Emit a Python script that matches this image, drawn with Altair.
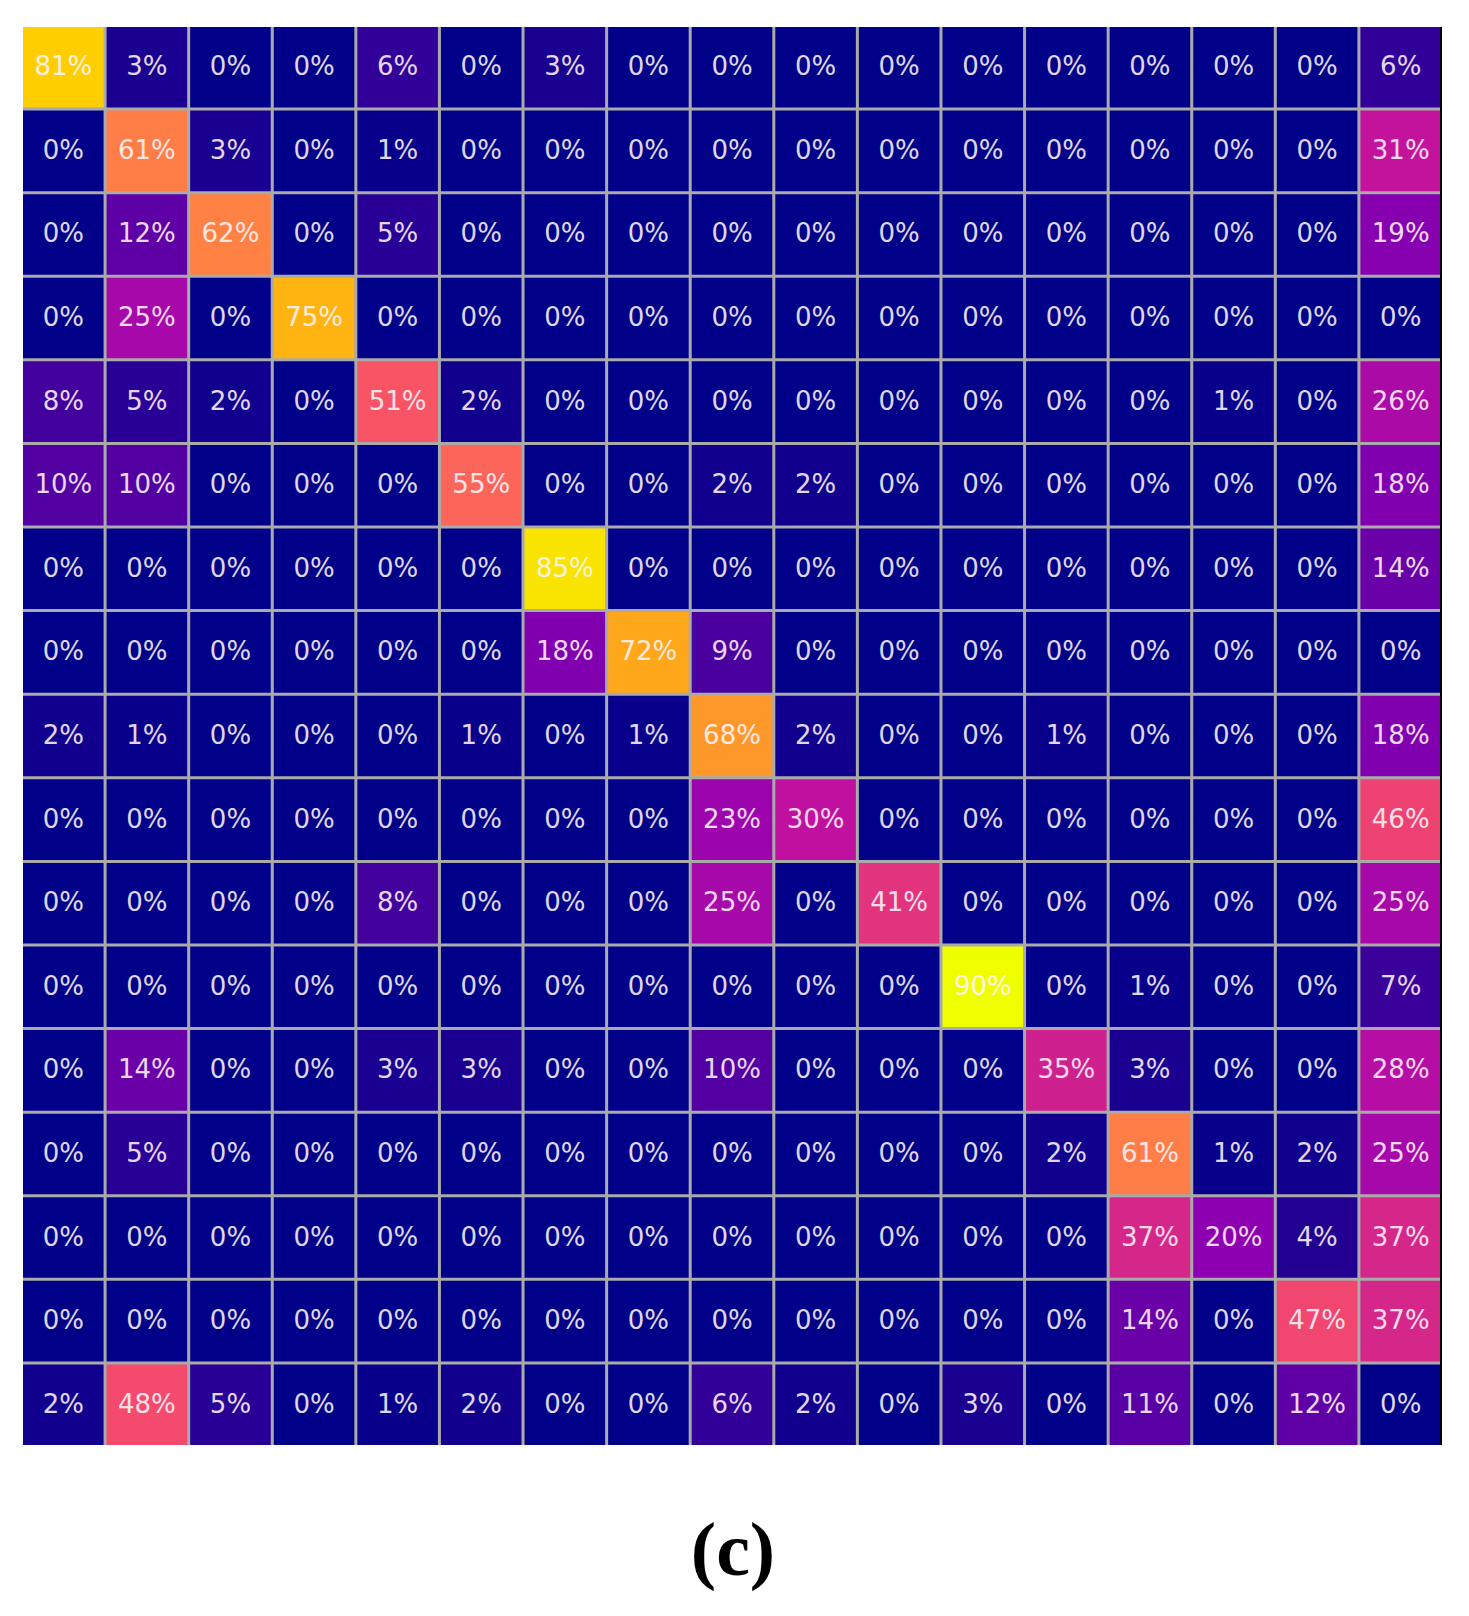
import altair as alt
import pandas as pd

classes = list(range(17))

rows = [
    [81, 3, 0, 0, 6, 0, 3, 0, 0, 0, 0, 0, 0, 0, 0, 0, 6],
    [0, 61, 3, 0, 1, 0, 0, 0, 0, 0, 0, 0, 0, 0, 0, 0, 31],
    [0, 12, 62, 0, 5, 0, 0, 0, 0, 0, 0, 0, 0, 0, 0, 0, 19],
    [0, 25, 0, 75, 0, 0, 0, 0, 0, 0, 0, 0, 0, 0, 0, 0, 0],
    [8, 5, 2, 0, 51, 2, 0, 0, 0, 0, 0, 0, 0, 0, 1, 0, 26],
    [10, 10, 0, 0, 0, 55, 0, 0, 2, 2, 0, 0, 0, 0, 0, 0, 18],
    [0, 0, 0, 0, 0, 0, 85, 0, 0, 0, 0, 0, 0, 0, 0, 0, 14],
    [0, 0, 0, 0, 0, 0, 18, 72, 9, 0, 0, 0, 0, 0, 0, 0, 0],
    [2, 1, 0, 0, 0, 1, 0, 1, 68, 2, 0, 0, 1, 0, 0, 0, 18],
    [0, 0, 0, 0, 0, 0, 0, 0, 23, 30, 0, 0, 0, 0, 0, 0, 46],
    [0, 0, 0, 0, 8, 0, 0, 0, 25, 0, 41, 0, 0, 0, 0, 0, 25],
    [0, 0, 0, 0, 0, 0, 0, 0, 0, 0, 0, 90, 0, 1, 0, 0, 7],
    [0, 14, 0, 0, 3, 3, 0, 0, 10, 0, 0, 0, 35, 3, 0, 0, 28],
    [0, 5, 0, 0, 0, 0, 0, 0, 0, 0, 0, 0, 2, 61, 1, 2, 25],
    [0, 0, 0, 0, 0, 0, 0, 0, 0, 0, 0, 0, 0, 37, 20, 4, 37],
    [0, 0, 0, 0, 0, 0, 0, 0, 0, 0, 0, 0, 0, 14, 0, 47, 37],
    [2, 48, 5, 0, 1, 2, 0, 0, 6, 2, 0, 3, 0, 11, 0, 12, 0],
]

color_stops = [0, 10, 20, 30, 40, 50, 60, 70, 80, 90]
color_range = ["#000088", "#5200a2", "#8c00b2", "#c010a0", "#de3080",
               "#f85068", "#ff7a4c", "#ff9f22", "#ffc800", "#f0ff00"]

records = []
for i, r in enumerate(rows):
    for j, v in enumerate(r):
        records.append({"row": i, "col": j, "value": v, "label": f"{v}%"})
df = pd.DataFrame(records)

W = 1418
H = 1418

xenc = alt.X("col:O", axis=None, scale=alt.Scale(domain=classes, paddingInner=0.036, paddingOuter=0))
yenc = alt.Y("row:O", axis=None, scale=alt.Scale(domain=classes, paddingInner=0.036, paddingOuter=0))

base = alt.Chart(df)
cells = base.mark_rect().encode(
    x=xenc, y=yenc,
    color=alt.Color("value:Q", legend=None,
                    scale=alt.Scale(domain=color_stops, range=color_range, interpolate="rgb")),
)
labels = base.mark_text(font="DejaVu Sans", fontSize=26, color="#fff4fa", opacity=0.88,
                        baseline="middle", align="center").encode(
    x=xenc, y=yenc, text="label:N"
)

edge = alt.Chart(pd.DataFrame({"k": [0]})).mark_rule(color="#000000", strokeWidth=2).encode(
    x=alt.value(W), y=alt.value(0), y2=alt.value(H)
)

caption = alt.Chart(pd.DataFrame({"t": ["(c)"]})).mark_text(
    font="Liberation Serif", fontWeight="bold", fontSize=76, color="#000000",
    align="center", baseline="alphabetic"
).encode(x=alt.value(710), y=alt.value(1548), text="t:N")

chart = alt.layer(cells, labels, edge, caption).properties(
    width=W, height=H,
    padding={"left": 15, "top": 19, "right": 20, "bottom": 170},
    autosize=alt.AutoSizeParams(type="none"),
).configure_view(fill="#aaaaaa", stroke=None)

chart.save("out.html", embed_options={"renderer": "svg", "actions": False})
